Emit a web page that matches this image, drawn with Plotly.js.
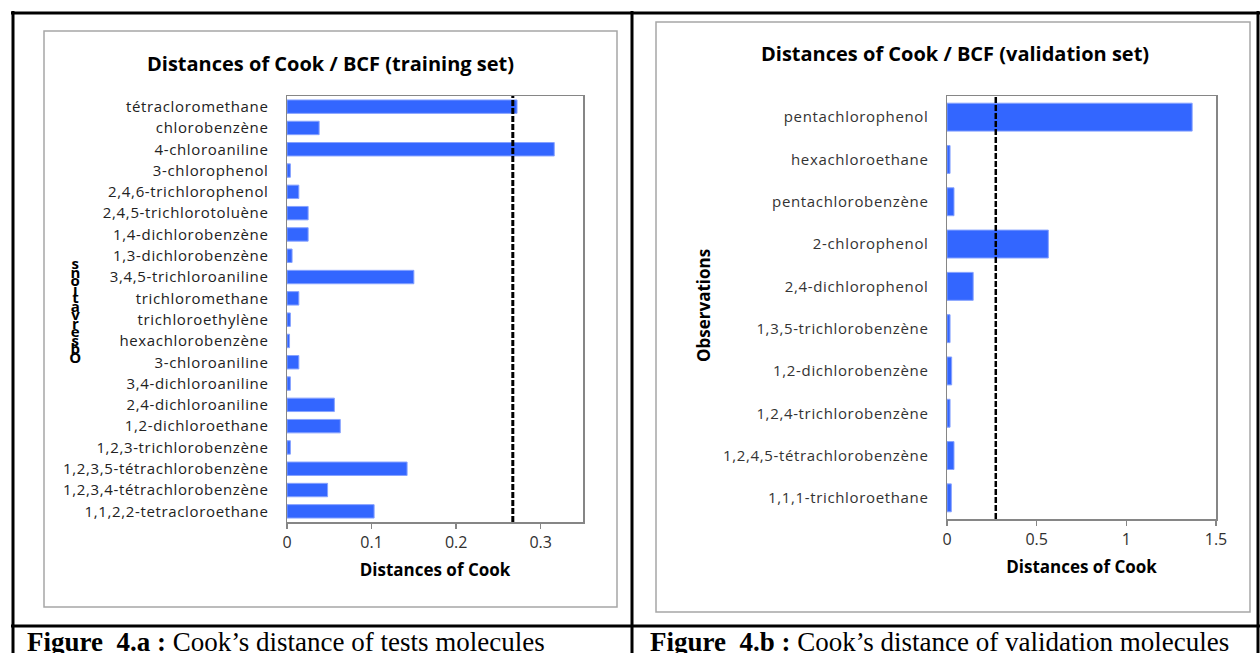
<!DOCTYPE html>
<html>
<head>
<meta charset="utf-8">
<script src="https://cdn.plot.ly/plotly-3.0.1.min.js"></script>
<style>
body{margin:0;padding:0;background:#fff;}
#chart{width:1260px;height:653px;}
#chart .ytick text, #chart .y2tick text{letter-spacing:0.65px;}
</style>
</head>
<body>
<div id="chart"></div>
<script>
// ---------- data ----------
const trainNames = [
  "tétracloromethane", "chlorobenzène", "4-chloroaniline", "3-chlorophenol",
  "2,4,6-trichlorophenol", "2,4,5-trichlorotoluène", "1,4-dichlorobenzène",
  "1,3-dichlorobenzène", "3,4,5-trichloroaniline", "trichloromethane",
  "trichloroethylène", "hexachlorobenzène", "3-chloroaniline", "3,4-dichloroaniline",
  "2,4-dichloroaniline", "1,2-dichloroethane", "1,2,3-trichlorobenzène",
  "1,2,3,5-tétrachlorobenzène", "1,2,3,4-tétrachlorobenzène", "1,1,2,2-tetracloroethane"
];
const trainValues = [
  0.272, 0.038, 0.316, 0.004,
  0.014, 0.025, 0.025,
  0.006, 0.150, 0.014,
  0.004, 0.003, 0.014, 0.004,
  0.056, 0.063, 0.004,
  0.142, 0.048, 0.103
];
const trainThreshold = 0.267;

const valNames = [
  "pentachlorophenol", "hexachloroethane", "pentachlorobenzène", "2-chlorophenol",
  "2,4-dichlorophenol", "1,3,5-trichlorobenzène", "1,2-dichlorobenzène",
  "1,2,4-trichlorobenzène", "1,2,4,5-tétrachlorobenzène", "1,1,1-trichloroethane"
];
const valValues = [
  1.367, 0.017, 0.039, 0.565,
  0.146, 0.017, 0.026,
  0.017, 0.039, 0.024
];
const valThreshold = 0.272;

const trainXTicks = [0, 0.1, 0.2, 0.3];
const valXTicks = [0, 0.5, 1, 1.5];

const leftTitle = "Distances of Cook / BCF (training set)";
const rightTitle = "Distances of Cook / BCF (validation set)";
const xTitle = "Distances of Cook";
const yTitle = "Observations";
const captionA = "<b>Figure  4.a :</b> Cook’s distance of tests molecules";
const captionB = "<b>Figure  4.b :</b> Cook’s distance of validation molecules";

// ---------- helpers (pixel -> paper) ----------
const W = 1260, H = 653;
const px = x => x / W;
const py = y => 1 - y / H;

const FONT = "Open Sans, Noto Sans, sans-serif";
const BAR = "#3366ff";
const BAR_EDGE = "#86a2ff";
const FRAME = "#868686";

const traces = [
  {
    type: "bar", orientation: "h",
    x: trainValues, y: trainNames,
    xaxis: "x", yaxis: "y",
    width: 0.63,
    marker: {color: BAR, line: {color: BAR_EDGE, width: 1}},
    hoverinfo: "x+y"
  },
  {
    type: "bar", orientation: "h",
    x: valValues, y: valNames,
    xaxis: "x2", yaxis: "y2",
    width: 0.66,
    marker: {color: BAR, line: {color: BAR_EDGE, width: 1}},
    hoverinfo: "x+y"
  }
];

const axisCommon = {
  showline: true, mirror: true, linecolor: FRAME, linewidth: 1.5,
  showgrid: false, zeroline: false, fixedrange: true
};

// the left chart's y-axis title is printed as upright letters stacked bottom-to-top
const STACK_X = 75, STACK_Y = 308;

const annotations = [
  {text: yTitle.split("").reverse().join(""),
   x: px(STACK_X), y: py(STACK_Y), xref: "paper", yref: "paper",
   xanchor: "center", yanchor: "middle", showarrow: false,
   font: {family: FONT, size: 15, color: "#000", weight: "bold"}},
  {text: "<b>" + leftTitle + "</b>", x: px(330), y: py(63), xref: "paper", yref: "paper",
   xanchor: "center", yanchor: "middle", showarrow: false,
   font: {family: FONT, size: 20, color: "#000"}},
  {text: "<b>" + rightTitle + "</b>", x: px(955), y: py(54), xref: "paper", yref: "paper",
   xanchor: "center", yanchor: "middle", showarrow: false,
   font: {family: FONT, size: 20, color: "#000"}},
  {text: "<b>" + yTitle + "</b>", x: px(703), y: py(306), xref: "paper", yref: "paper",
   xanchor: "center", yanchor: "middle", showarrow: false, textangle: -90,
   font: {family: FONT, size: 17, color: "#000"}},
  {text: captionA, x: px(25), y: py(642), xref: "paper", yref: "paper",
   xanchor: "left", yanchor: "middle", showarrow: false,
   font: {family: "Liberation Serif, Times New Roman, serif", size: 27, color: "#000"}},
  {text: captionB, x: px(648), y: py(642), xref: "paper", yref: "paper",
   xanchor: "left", yanchor: "middle", showarrow: false,
   font: {family: "Liberation Serif, Times New Roman, serif", size: 27, color: "#000"}}
];

const shapes = [
  // chart boxes
  {type: "rect", xref: "paper", yref: "paper", x0: px(44), x1: px(617), y0: py(607), y1: py(31),
   line: {color: "#a6a6a6", width: 1.5}, layer: "below"},
  {type: "rect", xref: "paper", yref: "paper", x0: px(656), x1: px(1250), y0: py(612), y1: py(22),
   line: {color: "#a6a6a6", width: 1.5}, layer: "below"},
  // table borders
  {type: "line", xref: "paper", yref: "paper", x0: px(11), x1: px(1260), y0: py(13), y1: py(13),
   line: {color: "#000", width: 3}},
  {type: "line", xref: "paper", yref: "paper", x0: px(11), x1: px(1260), y0: py(626), y1: py(626),
   line: {color: "#000", width: 3}},
  {type: "line", xref: "paper", yref: "paper", x0: px(13), x1: px(13), y0: py(11), y1: py(653),
   line: {color: "#000", width: 3}},
  {type: "line", xref: "paper", yref: "paper", x0: px(632), x1: px(632), y0: py(11), y1: py(653),
   line: {color: "#000", width: 3}},
  {type: "line", xref: "paper", yref: "paper", x0: px(1258), x1: px(1258), y0: py(11), y1: py(653),
   line: {color: "#000", width: 3}},
  // threshold lines
  {type: "line", xref: "x", yref: "y domain", x0: trainThreshold, x1: trainThreshold, y0: 0, y1: 1,
   line: {color: "#000", width: 3, dash: "6px,2px"}},
  {type: "line", xref: "x2", yref: "y2 domain", x0: valThreshold, x1: valThreshold, y0: 0, y1: 1,
   line: {color: "#000", width: 2.5, dash: "6px,2px"}}
];

const layout = {
  width: W, height: H,
  margin: {l: 0, r: 0, t: 0, b: 0},
  paper_bgcolor: "#fff", plot_bgcolor: "#fff",
  showlegend: false,
  font: {family: FONT, color: "#000"},
  xaxis: Object.assign({}, axisCommon, {
    domain: [px(287), px(583)], anchor: "y",
    range: [0, 0.35], tickvals: trainXTicks,
    ticks: "outside", ticklen: 5, tickwidth: 1.5, tickcolor: FRAME,
    tickfont: {family: FONT, size: 16, color: "#303030"},
    title: {text: "<b>" + xTitle + "</b>", font: {family: FONT, size: 17, color: "#000"}, standoff: 12}
  }),
  yaxis: Object.assign({}, axisCommon, {
    domain: [py(522), py(96)], anchor: "x",
    type: "category", autorange: "reversed",
    ticks: "", ticklabelstandoff: 14,
    tickfont: {family: FONT, size: 15, color: "#222"}
  }),
  xaxis2: Object.assign({}, axisCommon, {
    domain: [px(947), px(1216)], anchor: "y2",
    range: [0, 1.5], tickvals: valXTicks,
    ticks: "outside", ticklen: 5, tickwidth: 1.5, tickcolor: FRAME,
    tickfont: {family: FONT, size: 16, color: "#303030"},
    title: {text: "<b>" + xTitle + "</b>", font: {family: FONT, size: 17, color: "#000"}, standoff: 12}
  }),
  yaxis2: Object.assign({}, axisCommon, {
    domain: [py(519), py(96)], anchor: "x2",
    type: "category", autorange: "reversed",
    ticks: "", ticklabelstandoff: 14,
    tickfont: {family: FONT, size: 15, color: "#333"}
  }),
  shapes: shapes,
  annotations: annotations
};

Plotly.newPlot("chart", traces, layout, {displayModeBar: false, staticPlot: true}).then(gd => {
  // set the stacked title as upright, tightly packed vertical text (one text element)
  const g = gd.querySelector('.annotation[data-index="0"]');
  const t = g && g.querySelector('text');
  if (t) {
    t.style.writingMode = 'vertical-rl';
    t.style.textOrientation = 'upright';
    t.style.letterSpacing = '-11.5px';
    const r = t.getBoundingClientRect();
    const host = gd.getBoundingClientRect();
    const cx = r.left - host.left + r.width / 2;
    const cy = r.top - host.top + r.height / 2;
    t.setAttribute('x', (parseFloat(t.getAttribute('x')) || 0) + (STACK_X - cx));
    t.setAttribute('y', (parseFloat(t.getAttribute('y')) || 0) + (STACK_Y - cy));
  }
});
</script>
</body>
</html>
